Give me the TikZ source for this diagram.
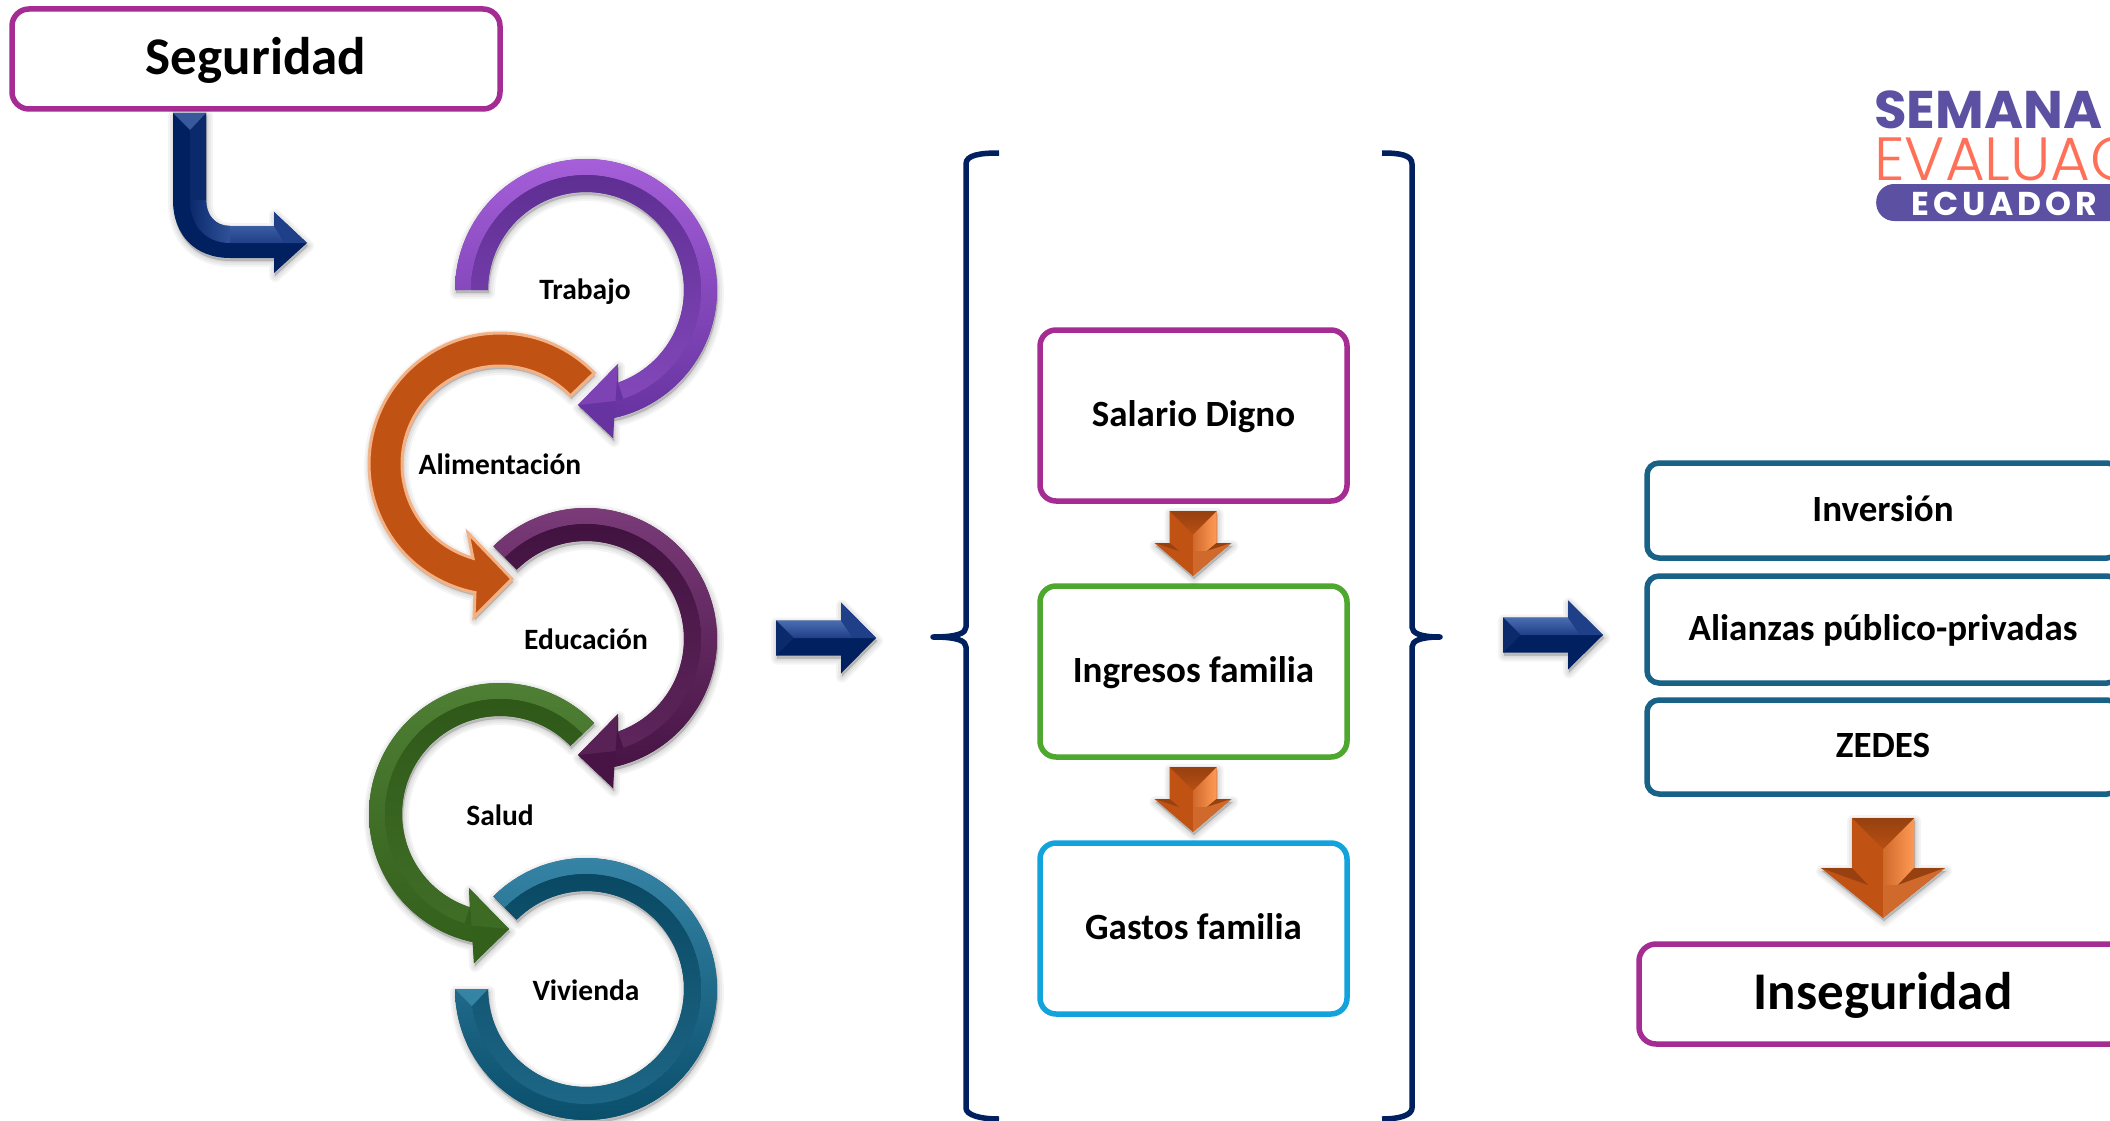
\documentclass[tikz,border=0pt]{standalone}
\usepackage{fontspec}
\setmainfont{Carlito}
\newfontfamily\logofont{Poppins}
\newfontfamily\logolight{Poppins}[UprightFont=* Light]
\usetikzlibrary{calc}
\definecolor{magbox}{HTML}{A52C92}
\definecolor{greenbox}{HTML}{4EA72E}
\definecolor{cyanbox}{HTML}{12A3DC}
\definecolor{tealbox}{HTML}{176286}
\definecolor{navy}{HTML}{002060}
\definecolor{navylight}{HTML}{4A6DB0}
\definecolor{navymid}{HTML}{1F3F88}
\definecolor{navyside}{HTML}{0A2A6C}
\definecolor{oranB}{HTML}{C05214}
\definecolor{oranD}{HTML}{96410F}
\definecolor{oranL}{HTML}{FF9A55}
\definecolor{oranM}{HTML}{D06A2C}
\definecolor{peach}{HTML}{F4B183}
\definecolor{purpbase}{HTML}{6733A0}
\definecolor{purplight}{HTML}{A55FD9}
\definecolor{edubase}{HTML}{471445}
\definecolor{edulight}{HTML}{7A3B78}
\definecolor{salbase}{HTML}{33601B}
\definecolor{sallight}{HTML}{4F7F35}
\definecolor{vivbase}{HTML}{0A4F6C}
\definecolor{vivlight}{HTML}{3583A5}
\definecolor{logopurple}{HTML}{5B50A2}
\definecolor{logocoral}{HTML}{FF7059}
% ring arrow silhouette: cx cy a0 a1(outer) a1(inner) barbOuter tip barbInner
\def\ArrowPath#1#2#3#4#5#6#7#8{plot[domain=#3:#4,samples=90] ({#1+131*cos(\x)},{#2+131*sin(\x)}) -- (#6) -- (#7) -- (#8) -- plot[domain=#5:#3,samples=90] ({#1+98*cos(\x)},{#2+98*sin(\x)}) -- cycle}
\def\BandPath#1#2#3#4#5#6{plot[domain=#3:#4,samples=90] ({#1+#5*cos(\x)},{#2+#5*sin(\x)}) -- plot[domain=#4:#3,samples=90] ({#1+#6*cos(\x)},{#2+#6*sin(\x)}) -- cycle}
\newcommand{\softshadow}[1]{\foreach \w in {12,8,4,1}{\filldraw[black,opacity=.045,line join=round,line width=\w pt,shift={(1,3)}] #1;}}
\newcommand{\ringbands}[6]{%
  \shade[top color=#6light,middle color=#6light!15!#6base,bottom color=#6base] \BandPath{#1}{#2}{#3}{#4}{131}{115};
  \shade[top color=#6base!92!black,middle color=#6base,bottom color=#6light!45!#6base] \BandPath{#1}{#2}{#3}{#5}{115}{98};}
\newcommand{\ringarrow}[9]{%
  \softshadow{\ArrowPath{#1}{#2}{#3}{#4}{#5}{#6}{#7}{#8}}
  \fill[#9base] \ArrowPath{#1}{#2}{#3}{#4}{#5}{#6}{#7}{#8};
  \ringbands{#1}{#2}{#3}{#4}{#5}{#9}
  \fill[#9base] (#6) -- (#7) -- ($(#6)!.5!(#8)$) -- cycle;
  \fill[#9light!35!#9base] (#8) -- (#7) -- ($(#6)!.5!(#8)$) -- cycle;}
% block arrow pointing right: x0 xbase xtip yc h b
\newcommand{\bluearrow}[6]{%
  \def\sil{({#1},{#4-#5}) -- ({#2},{#4-#5}) -- ({#2},{#4-#6}) -- ({#3},{#4}) -- ({#2},{#4+#6}) -- ({#2},{#4+#5}) -- ({#1},{#4+#5}) -- cycle}
  \softshadow{\sil}
  \fill[navy] \sil;
  \shade[top color=navylight,bottom color=navymid] ({#1},{#4-#5}) -- ({#2},{#4-#5}) -- ({#2+#5*.7},{#4}) -- ({#1+#5},{#4}) -- cycle;
  \fill[navyside] ({#1},{#4-#5}) -- ({#1+#5},{#4}) -- ({#1},{#4+#5}) -- cycle;
  \fill[navymid] ({#2},{#4-#6}) -- ({#3},{#4}) -- ({#2+#5*.7},{#4}) -- ({#2},{#4-#5}) -- cycle;}
% block arrow pointing down: cx ytop ybarb ytip hw bw inset-x inset-y
\newcommand{\orangearrow}[8]{%
  \def\sil{({#1-#5},{#2}) -- ({#1+#5},{#2}) -- ({#1+#5},{#3}) -- ({#1+#6},{#3}) -- ({#1},{#4}) -- ({#1-#6},{#3}) -- ({#1-#5},{#3}) -- cycle}
  \softshadow{\sil}
  \fill[oranB] \sil;
  \shade[left color=oranM,right color=oranL] ({#1},{#2+#5}) -- ({#1+#5},{#2}) -- ({#1+#5},{#3}) -- ({#1+#7},{#3+#8}) -- ({#1},{#3+#8}) -- cycle;
  \shade[top color=oranD,bottom color=oranB!80!oranD] ({#1-#5},{#2}) -- ({#1+#5},{#2}) -- ({#1},{#2+#5}) -- cycle;
  \fill[oranD] ({#1-#6},{#3}) -- ({#1-#5},{#3}) -- ({#1-#7},{#3+#8}) -- cycle;
  \fill[oranD] ({#1+#6},{#3}) -- ({#1+#5},{#3}) -- ({#1+#7},{#3+#8}) -- cycle;
  \fill[oranM] ({#1},{#3+#8}) -- ({#1+#7},{#3+#8}) -- ({#1+#6},{#3}) -- ({#1},{#4}) -- cycle;}
\tikzset{
  boxnode/.style={draw=#1,line width=5.5pt,rounded corners=16pt,fill=white,inner sep=0pt,text=black,font=\bfseries\fontsize{37}{41}\selectfont,text depth=0pt},
  bignode/.style={boxnode=#1,font=\bfseries\fontsize{53}{58}\selectfont,rounded corners=17pt},
  ringlabel/.style={anchor=base,inner sep=0pt,text=black,font=\bfseries\fontsize{29.5}{33}\selectfont},
  brace/.style={draw=navy,line width=5.5pt,line join=round}
}
\begin{document}
\begin{tikzpicture}[x=1pt,y=-1pt]
\useasboundingbox (0,0) rectangle (2110,1121);
\fill[white] (0,0) rectangle (2110,1121);

% top box and bent arrow
\node[bignode=magbox,minimum width=488pt,minimum height=100pt,text height=32pt] (seg) at (256,59) {Seguridad};
\def\bent{(173,113) -- (173,200) .. controls (173,235) and (195,258) .. (230,258) -- (274,258) -- (274,273) -- (307,243) -- (274,212) -- (274,226) -- (230,226) .. controls (215,226) and (206,215) .. (206,200) -- (206,113) -- cycle}
\softshadow{\bent}
\fill[navy] \bent;
\fill[navyside] (190,130) -- (206,113) -- (206,200) -- (190,200) -- cycle;
\shade[left color=navyside,right color=navymid!60!navylight] (190,200) .. controls (190,225) and (205,243) .. (230,243) -- (230,226) .. controls (215,226) and (206,215) .. (206,200) -- cycle;
\shade[top color=navymid!35!navylight,bottom color=navymid] (230,226) -- (274,226) -- (285,243) -- (230,243) -- cycle;
\fill[navylight!75!navy] (173,113) -- (206,113) -- (190,130) -- cycle;
\fill[navymid] (274,212) -- (307,243) -- (285,243) -- (274,226) -- cycle;

% ring arrows
\ringarrow{586}{290}{180}{438}{431}{613,438}{578,405}{618,364}{purp}
\softshadow{\ArrowPath{500}{464}{316}{101}{106}{474,617}{512,579}{468,533}}
\filldraw[fill=oranB,draw=peach,line width=3pt,line join=miter] \ArrowPath{500}{464}{316}{101}{106}{474,617}{512,579}{468,533};
\ringarrow{586}{639}{225}{438}{431}{613,788}{578,755}{618,714}{edu}
\ringarrow{500}{814}{316}{102}{108}{474,963}{509,929}{469,888}{sal}
\softshadow{\BandPath{586}{989}{225}{540}{131}{98}}
\fill[vivbase] \BandPath{586}{989}{225}{540}{131}{98};
\ringbands{586}{989}{225}{540}{540}{viv}
\fill[vivlight] (455,989) -- (488,989) -- (472,1006) -- cycle;

\node[ringlabel] (trab) at (585,299) {Trabajo};
\node[ringlabel] (alim) at (500,474) {Alimentación};
\node[ringlabel] (educ) at (586,649) {Educación};
\node[ringlabel] (salu) at (500,825) {Salud};
\node[ringlabel] (vivi) at (586,1000) {Vivienda};

% arrows to the brace groups
\bluearrow{776}{841}{876}{638}{17.5}{35.5}
\bluearrow{1503}{1568}{1603}{635}{17.5}{34.5}

% left and right braces
\draw[brace] (999,153) .. controls (980,153) and (966,155) .. (966,164) -- (966,627) .. controls (966,633) and (958,637) .. (933,637) .. controls (958,637) and (966,641) .. (966,647) -- (966,1108) .. controls (966,1115) and (980,1119) .. (999,1119);
\draw[brace] (1382,153) .. controls (1400,153) and (1412,155) .. (1412,164) -- (1412,627) .. controls (1412,633) and (1420,637) .. (1440,637) .. controls (1420,637) and (1412,641) .. (1412,647) -- (1412,1108) .. controls (1412,1115) and (1400,1119) .. (1382,1119);

% centre column
\node[boxnode=magbox,minimum width=307pt,minimum height=171pt,text height=21pt] (sal) at (1193.5,415.5) {Salario Digno};
\node[boxnode=greenbox,minimum width=307pt,minimum height=171pt,text height=21pt] (ing) at (1193.5,671.5) {Ingresos familia};
\node[boxnode=cyanbox,minimum width=307pt,minimum height=171pt,text height=21pt] (gas) at (1193.5,928.5) {Gastos familia};
\orangearrow{1193}{511}{543}{576}{23.5}{38.5}{14}{8}
\orangearrow{1193}{767}{799}{832}{23.5}{38.5}{14}{8}

% right column
\node[boxnode=tealbox,minimum width=472pt,minimum height=95pt,rounded corners=12pt,text height=21pt] (inv) at (1883,510.5) {Inversión};
\node[boxnode=tealbox,minimum width=472pt,minimum height=107pt,rounded corners=12pt,text height=21pt] (ali) at (1883,629.5) {Alianzas público-privadas};
\node[boxnode=tealbox,minimum width=472pt,minimum height=94pt,rounded corners=12pt,text height=20pt] (zed) at (1883,747) {ZEDES};
\orangearrow{1883}{818}{868}{918}{31}{62}{15}{17}
\node[bignode=magbox,minimum width=488pt,minimum height=100pt,text height=31pt] (inse) at (1883,994) {Inseguridad};

% logo
\node[anchor=base west,inner sep=0pt,text=logopurple,font=\logofont\bfseries\fontsize{53}{57}\selectfont] (lsem) at (1874,129) {SEMANA};
\node[anchor=base west,inner sep=0pt,text=logocoral,font=\logolight\fontsize{61}{65}\selectfont] (leva) at (1874,181) {EVALUAC};
\node[fill=logopurple,rounded corners=18pt,minimum width=340pt,minimum height=37pt,inner sep=0pt,anchor=west] (lpill) at (1876,202.5) {};
\node[anchor=base west,inner sep=0pt,text=white,font=\logofont\bfseries\addfontfeature{LetterSpace=12}\fontsize{33}{36}\selectfont] (lecu) at (1911,215) {ECUADOR};
\end{tikzpicture}
\end{document}
